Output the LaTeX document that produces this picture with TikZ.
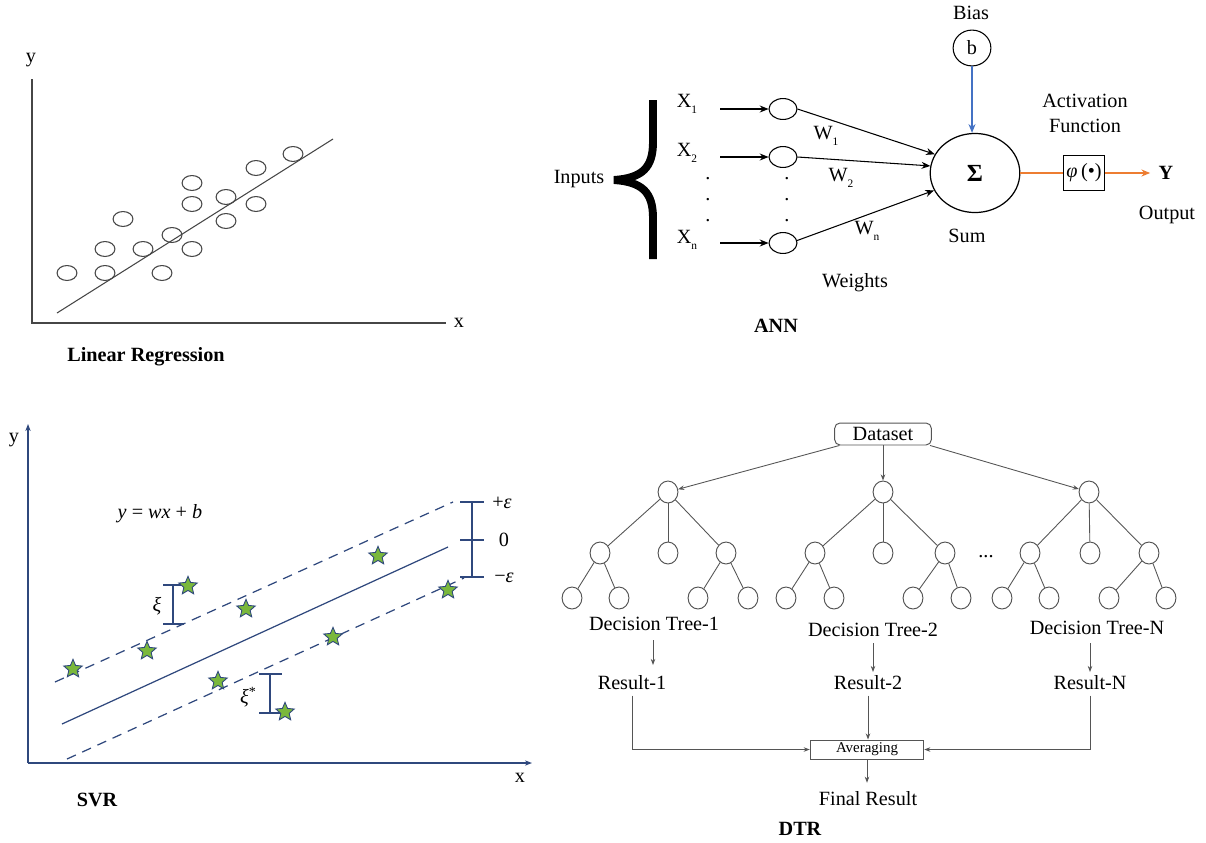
\documentclass[tikz,border=0pt]{standalone}
\usepackage{fontspec}
\setmainfont{Liberation Serif}
\usetikzlibrary{shapes.geometric,arrows.meta}
\definecolor{navy}{RGB}{47,72,125}
\definecolor{stargreen}{RGB}{122,184,60}
\definecolor{biasblue}{RGB}{68,114,196}
\definecolor{actorange}{RGB}{237,125,49}
\definecolor{lrgray}{RGB}{70,70,70}
\definecolor{dtgray}{RGB}{85,85,85}
\newcommand\lowsub[1]{\raisebox{-0.7ex}{\fontsize{6.5}{7}\selectfont #1}}
\begin{document}
\begin{tikzpicture}[x=0.02cm,y=-0.02cm,
  every node/.style={font=\fontsize{11.5}{14.2}\selectfont, inner sep=0pt},
  title/.style={font=\fontsize{11.5}{14}\selectfont\bfseries},
  lrline/.style={draw=lrgray, line width=0.6pt},
  lrpt/.style={ellipse, draw=lrgray, line width=0.6pt, minimum width=11.3pt, minimum height=8.5pt},
  annarrow/.style={draw=black, line width=0.6pt, -{Stealth[length=5pt,width=4pt]}},
  smallell/.style={ellipse, draw=black, line width=0.6pt, minimum width=15.9pt, minimum height=11.9pt},
  sumell/.style={ellipse, draw=black, line width=0.7pt, minimum width=51pt, minimum height=45pt},
  biasell/.style={ellipse, draw=black, line width=0.6pt, minimum width=21.5pt, minimum height=20.4pt},
  phibox/.style={draw=black, line width=0.6pt, minimum width=23.8pt, minimum height=19.8pt},
  svrline/.style={draw=navy, line width=0.7pt},
  svrdash/.style={draw=navy, line width=0.7pt, dash pattern=on 5.5pt off 4pt},
  svrstar/.style={star, star points=5, star point ratio=2.2, draw=navy, fill=stargreen, line width=0.5pt, minimum size=11pt},
  dtline/.style={draw=dtgray, line width=0.5pt},
  dtarrow/.style={draw=dtgray, line width=0.5pt, -{Stealth[length=3.5pt,width=2.6pt]}},
  dtnode/.style={ellipse, draw=dtgray, line width=0.55pt, minimum width=11.3pt, minimum height=12.5pt},
  dsbox/.style={draw=dtgray, line width=0.55pt, rounded corners=3pt, minimum width=55pt, minimum height=12.5pt},
  avgbox/.style={draw=dtgray, line width=0.55pt, minimum width=64.6pt, minimum height=10.8pt, font=\fontsize{8.5}{10}\selectfont}
]
\useasboundingbox (0,0) rectangle (1206,842);

% ---------------- Linear Regression ----------------
\coordinate (lrtop) at (32,79);
\coordinate (lrorig) at (32,323);
\coordinate (lrright) at (446,323);
\draw[lrline] (lrtop) -- (lrorig) -- (lrright);
\node (lrylab) at (31,60) {y};
\node (lrxlab) at (459,323) {x};
\coordinate (lrl1) at (57,313);
\coordinate (lrl2) at (333,139);
\draw[lrline] (lrl1) -- (lrl2);
\foreach \px/\py [count=\i] in {67/273,105/273,162/273,105/249,143/249,192/249,172/235,123/219,226/221,256/204,192/204,226/197,192/183,256/168,293/154}
  \node[lrpt] (lrp\i) at (\px,\py) {};
\node[title] (lrtitle) at (146,357) {Linear Regression};

% ---------------- ANN ----------------
\node (inputs) at (579,179) {Inputs};
\draw[line width=4.5pt, black] (653,100) -- (653,142) .. controls (653,168) and (642,178) .. (614,180)
      .. controls (642,182) and (653,192) .. (653,218) -- (653,259);
\node (x1) at (687,104) {X\lowsub{1}};
\node (x2) at (687,153) {X\lowsub{2}};
\node (xn) at (687,240) {X\lowsub{n}};
\node (dx1) at (708,179) {.};
\node (dx2) at (708,200) {.};
\node (dx3) at (708,221) {.};
\node[smallell] (n1) at (783,109) {};
\node[smallell] (n2) at (783,157) {};
\node[smallell] (n3) at (783,243) {};
\node (dn1) at (787,179) {.};
\node (dn2) at (787,200) {.};
\node (dn3) at (787,221) {.};
\coordinate (s1) at (720,109);
\coordinate (s2) at (720,157);
\coordinate (s3) at (720,243);
\draw[annarrow] (s1) -- (n1);
\draw[annarrow] (s2) -- (n2);
\draw[annarrow] (s3) -- (n3);
\node[sumell] (sum) at (975,173) {\fontsize{14}{16}\selectfont\bfseries Σ};
\draw[annarrow] (n1.east) -- (sum.155);
\draw[annarrow] (n2.east) -- (sum.171);
\draw[annarrow] (n3.10) -- (sum.203);
\node (w1) at (826,136) {W\lowsub{1}};
\node (w2) at (841,178) {W\lowsub{2}};
\node (wn) at (867,231) {W\lowsub{n}};
\node (weights) at (855,283) {Weights};
\node (sumlab) at (967,236) {Sum};
\node (biaslab) at (971,13) {Bias};
\node[biasell] (b) at (972,48) {b};
\draw[draw=biasblue, line width=0.6pt, -{Stealth[length=5pt,width=4pt]}] (b.south) -- (b.south |- sum.north);
\node[phibox] (phi) at (1084,173) {\textit{φ}\,(•)};
\node[font=\fontsize{11.5}{14}\selectfont\bfseries] (yout) at (1166,173) {Y};
\draw[draw=actorange, line width=0.8pt] (sum.east) -- (phi.west);
\draw[draw=actorange, line width=0.8pt, -{Stealth[length=5pt,width=4pt]}, shorten >=9pt] (phi.east) -- (yout.center);
\node[align=center] (actf) at (1085,113) {Activation\\Function};
\node (outlab) at (1167,215) {Output};
\node[title] (anntitle) at (776,326) {ANN};

% ---------------- SVR ----------------
\coordinate (sorig) at (28,763);
\coordinate (stop) at (28,424);
\coordinate (sright) at (532,763);
\draw[svrline, -{Stealth[length=4pt,width=3pt]}] (sorig) -- (stop);
\draw[svrline, -{Stealth[length=4pt,width=3pt]}] (sorig) -- (sright);
\node (sylab) at (14,440) {y};
\node (sxlab) at (520,778) {x};
\coordinate (ud1) at (55,682);
\coordinate (ud2) at (453,502);
\coordinate (sl1) at (62,724);
\coordinate (sl2) at (448,547);
\coordinate (ld1) at (67,759);
\coordinate (ld2) at (464,578);
\draw[svrdash] (ud1) -- (ud2);
\draw[svrline] (sl1) -- (sl2);
\draw[svrdash] (ld1) -- (ld2);
% main epsilon bar
\coordinate (eb1) at (472,502);
\coordinate (eb2) at (472,577);
\draw[svrline] (eb1) -- (eb2);
\draw[svrline] (460,502) -- (484,502);
\draw[svrline] (460,540) -- (484,540);
\draw[svrline] (460,577) -- (484,577);
\node (peps) at (502,503) {+\textit{ε}};
\node (zero) at (504,540) {0};
\node (meps) at (504,578) {−\textit{ε}};
% xi bars
\draw[svrline] (173,585) -- (173,624);
\draw[svrline] (163,585) -- (184,585);
\draw[svrline] (163,624) -- (184,624);
\node (xi) at (157,606) {\textit{ξ}};
\draw[svrline] (270,674) -- (270,713);
\draw[svrline] (259,674) -- (282,674);
\draw[svrline] (259,713) -- (282,713);
\node (xis) at (248,697) {\textit{ξ}\raisebox{0.8ex}{\fontsize{8}{9}\selectfont *}};
\node (eqn) at (160,514) {\textit{y} = \textit{wx} + \textit{b}};
\foreach \px/\py [count=\i] in {73/669,147/651,188/586,246/609,218/681,285/712,333/637,378/556,448/590}
  \node[svrstar] (st\i) at (\px,\py) {};
\node[title] (svrtitle) at (97,800) {SVR};

% ---------------- DTR ----------------
\node[dsbox] (ds) at (883,434) {Dataset};
\node[dtnode] (r1) at (668,492) {};
\node[dtnode] (r2) at (883,492) {};
\node[dtnode] (r3) at (1089,492) {};
\draw[dtarrow] ([xshift=3pt]ds.south west) -- (r1);
\draw[dtarrow] (ds.south) -- (r2);
\draw[dtarrow] ([xshift=-1pt]ds.south east) -- (r3);
% level 2
\node[dtnode] (t1a) at (600,553) {};
\node[dtnode] (t1b) at (668,553) {};
\node[dtnode] (t1c) at (726,553) {};
\node[dtnode] (t2a) at (815,553) {};
\node[dtnode] (t2b) at (883,553) {};
\node[dtnode] (t2c) at (945,553) {};
\node[dtnode] (t3a) at (1030,553) {};
\node[dtnode] (t3b) at (1090,553) {};
\node[dtnode] (t3c) at (1149,553) {};
\foreach \r/\c in {r1/t1a,r1/t1b,r1/t1c,r2/t2a,r2/t2b,r2/t2c,r3/t3a,r3/t3b,r3/t3c}
  \draw[dtline] (\r) -- (\c);
% level 3
\node[dtnode] (u1) at (572,598) {};
\node[dtnode] (u2) at (619,598) {};
\node[dtnode] (u3) at (698,598) {};
\node[dtnode] (u4) at (748,598) {};
\node[dtnode] (u5) at (786,598) {};
\node[dtnode] (u6) at (834,598) {};
\node[dtnode] (u7) at (913,598) {};
\node[dtnode] (u8) at (961,598) {};
\node[dtnode] (u9) at (1002,598) {};
\node[dtnode] (u10) at (1049,598) {};
\node[dtnode] (u11) at (1109,598) {};
\node[dtnode] (u12) at (1166,598) {};
\foreach \p/\c in {t1a/u1,t1a/u2,t1c/u3,t1c/u4,t2a/u5,t2a/u6,t2c/u7,t2c/u8,t3a/u9,t3a/u10,t3c/u11,t3c/u12}
  \draw[dtline] (\p) -- (\c);
\node (dots) at (986,557) {...};
\node (dt1) at (654,624) {Decision Tree-1};
\node (dt2) at (873,630) {Decision Tree-2};
\node (dtn) at (1097,628) {Decision Tree-N};
\node (res1) at (632,683) {Result-1};
\node (res2) at (868,683) {Result-2};
\node (resn) at (1090,683) {Result-N};
\coordinate (a1s) at (653,640);
\coordinate (a1e) at (653,665);
\coordinate (a2s) at (873,643);
\coordinate (a2e) at (873,672);
\coordinate (a3s) at (1090,643);
\coordinate (a3e) at (1090,672);
\draw[dtarrow] (a1s) -- (a1e);
\draw[dtarrow] (a2s) -- (a2e);
\draw[dtarrow] (a3s) -- (a3e);
\node[avgbox] (avg) at (867,749.5) {Averaging};
\draw[dtarrow] ([yshift=-3pt]res1.south) |- (avg.west);
\draw[dtarrow] ([yshift=-3pt]res2.south) -- (res2.south |- avg.north);
\draw[dtarrow] ([yshift=-3pt]resn.south) |- (avg.east);
\node (final) at (868,799) {Final Result};
\draw[dtarrow, shorten >=5pt] (avg.south) -- (avg.south |- final.north);
\node[title] (dtrtitle) at (800,829) {DTR};
\end{tikzpicture}
\end{document}
